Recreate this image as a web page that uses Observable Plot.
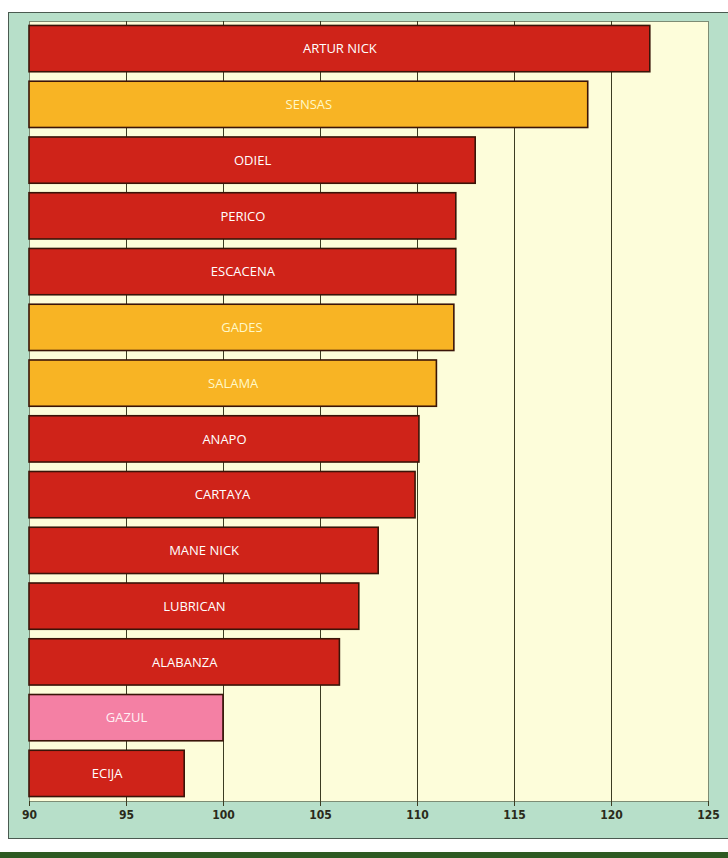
<!DOCTYPE html>
<html><head><meta charset="utf-8">
<script src="https://cdn.jsdelivr.net/npm/d3@7"></script>
<script src="https://cdn.jsdelivr.net/npm/@observablehq/plot@0.6"></script>
<style>
html,body{margin:0;padding:0;background:#fff;width:728px;height:858px;overflow:hidden;position:relative;}
#panel{position:absolute;left:8px;top:12px;width:730px;height:827px;background:#b7dfc9;border:1.5px solid #4a5a50;box-sizing:border-box;}
#band{position:absolute;left:0;top:852px;width:728px;height:6px;background:#2e5a22;}
#chart{position:absolute;left:0;top:0;}
</style></head>
<body>
<div id="panel"></div>
<div id="band"></div>
<div id="chart"></div>
<script>
const names = ["ARTUR NICK","SENSAS","ODIEL","PERICO","ESCACENA","GADES","SALAMA","ANAPO","CARTAYA","MANE NICK","LUBRICAN","ALABANZA","GAZUL","ECIJA"];
const values = [122, 118.8, 113, 112, 112, 111.9, 111, 110.1, 109.9, 108, 107, 106, 100, 98];
const groups = ["r","o","r","r","r","o","o","r","r","r","r","r","p","r"];
const xTicks = [90,95,100,105,110,115,120,125];

const fillOf = {r:"#cf2319", o:"#f8b424", p:"#f480a4"};
const textOf = {r:"#ffffff", o:"#fff8c8", p:"#fff0f4"};
const data = names.map((n,i)=>({name:n, value:values[i], g:groups[i]}));

const chart = Plot.plot({
  width: 728, height: 840,
  marginLeft: 29, marginRight: 20, marginTop: 21, marginBottom: 39,
  x: {domain:[90,125]},
  y: {domain: names, paddingInner: 0.17, paddingOuter: 0.08, round: false, axis: null},
  style: {background:"transparent", fontFamily:"'DejaVu Sans Condensed', 'DejaVu Sans', sans-serif"},
  marks: [
    Plot.frame({fill:"#fdfdda", stroke:"#7d8c74", strokeWidth:1}),
    Plot.ruleX(xTicks.slice(1,-1), {stroke:"#3c3c22", strokeWidth:1}),
    Plot.barX(data, {x1: ()=>90, x2:"value", y:"name", fill: d=>fillOf[d.g], stroke:"#3a1408", strokeWidth:1.6}),
    Plot.text(data, {x: d=>(90+d.value)/2, y:"name", text:"name", fill: d=>textOf[d.g], fontSize:13, fontFamily:"'Open Sans', sans-serif", fontWeight:"normal"}),
    Plot.ruleY([0], {frameAnchor:"bottom", stroke:"#3c3c22", strokeWidth:1.5}),
    Plot.axisX({ticks: xTicks, tickSize: 5, tickPadding: 4, fontSize: 12, fontWeight: "bold", fill:"#2a2a1a", stroke:"#3c3c22", label: null})
  ]
});
document.getElementById("chart").appendChild(chart);
</script>
</body></html>
